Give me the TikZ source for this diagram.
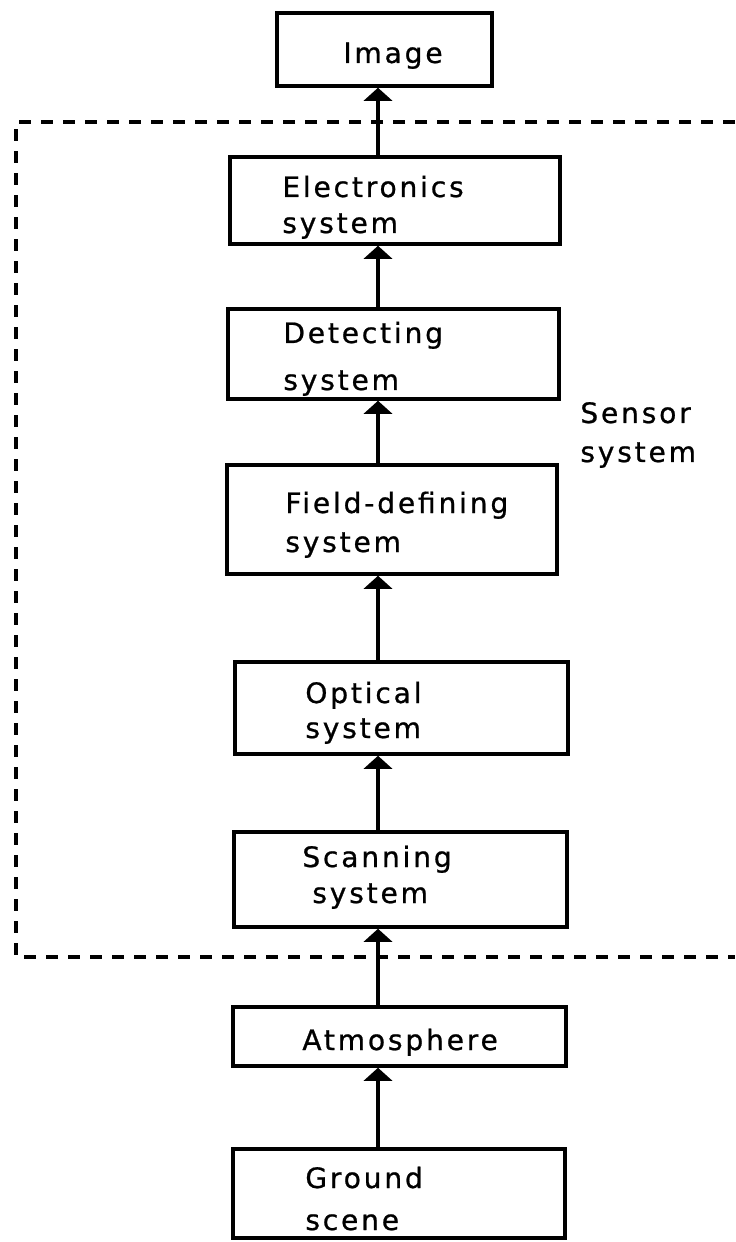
\documentclass[tikz,border=0pt]{standalone}
\usepackage{fontspec}
\newfontfamily\plotfont[LetterSpace=10, FakeBold=0.8]{DejaVu Sans}
\usetikzlibrary{arrows.meta}

\begin{document}
\begin{tikzpicture}[x=0.2mm, y=-0.2mm,
  font=\plotfont\fontsize{16pt}{20pt}\selectfont,
  blk/.style={draw, line width=2pt, inner sep=0pt},
  txt/.style={anchor=base west, inner sep=0pt},
  flow/.style={line width=2.2pt, -{Triangle[width=5.6mm, length=2.6mm]}},
  frame/.style={line width=0.9mm, dash pattern=on 2.4mm off 2mm}]
  \useasboundingbox (0,0) rectangle (735,1242);
  % 상자: 중심 좌표와 크기 (단위 0.2mm)
  \node[blk, minimum width=43mm, minimum height=14.6mm] (img) at (384.5,49.5) {};
  \node[blk, minimum width=66mm, minimum height=17.4mm] (elec) at (395,200.5) {};
  \node[blk, minimum width=66.2mm, minimum height=18mm] (det) at (393.5,354) {};
  \node[blk, minimum width=66mm, minimum height=21.8mm] (fld) at (392,519.5) {};
  \node[blk, minimum width=66.6mm, minimum height=18.4mm] (opt) at (401.5,708) {};
  \node[blk, minimum width=66.6mm, minimum height=19mm] (scan) at (400.5,879.5) {};
  \node[blk, minimum width=66.6mm, minimum height=11.8mm] (atm) at (399.5,1036.5) {};
  \node[blk, minimum width=66.4mm, minimum height=17.8mm] (gnd) at (399,1193.5) {};
  % 센서 부분을 두르는 점선(오른쪽은 열려 있다)
  \draw[frame] (735,122) -- (16,122) -- (16,957) -- (735,957);
  % 아래에서 위로 올라가는 화살표, 모두 x=378 에서
  \coordinate (ax) at (378,0);
  \draw[flow] (gnd.north -| ax) -- (atm.south -| ax);
  \draw[flow] (atm.north -| ax) -- (scan.south -| ax);
  \draw[flow] (scan.north -| ax) -- (opt.south -| ax);
  \draw[flow] (opt.north -| ax) -- (fld.south -| ax);
  \draw[flow] (fld.north -| ax) -- (det.south -| ax);
  \draw[flow] (det.north -| ax) -- (elec.south -| ax);
  \draw[flow] (elec.north -| ax) -- (img.south -| ax);
  % 글자: 한 줄씩, 기준선 왼쪽 끝에
  \node[txt] (img-a) at (343,63) {Image};
  \node[txt] (elec-a) at (282,197) {Electronics};
  \node[txt] (elec-b) at (282,233) {system};
  \node[txt] (det-a) at (283,343) {Detecting};
  \node[txt] (det-b) at (283,390) {system};
  \node[txt] (fld-a) at (285,513) {Field-defining};
  \node[txt] (fld-b) at (285,552) {system};
  \node[txt] (opt-a) at (305,703) {Optical};
  \node[txt] (opt-b) at (305,738) {system};
  \node[txt] (scan-a) at (302,867) {Scanning};
  \node[txt] (scan-b) at (312,903) {system};
  \node[txt] (atm-a) at (302,1050) {Atmosphere};
  \node[txt] (gnd-a) at (305,1188) {Ground};
  \node[txt] (gnd-b) at (305,1230) {scene};
  \node[txt] (sen-a) at (580,423) {Sensor};
  \node[txt] (sen-b) at (580,462) {system};
\end{tikzpicture}
\end{document}
